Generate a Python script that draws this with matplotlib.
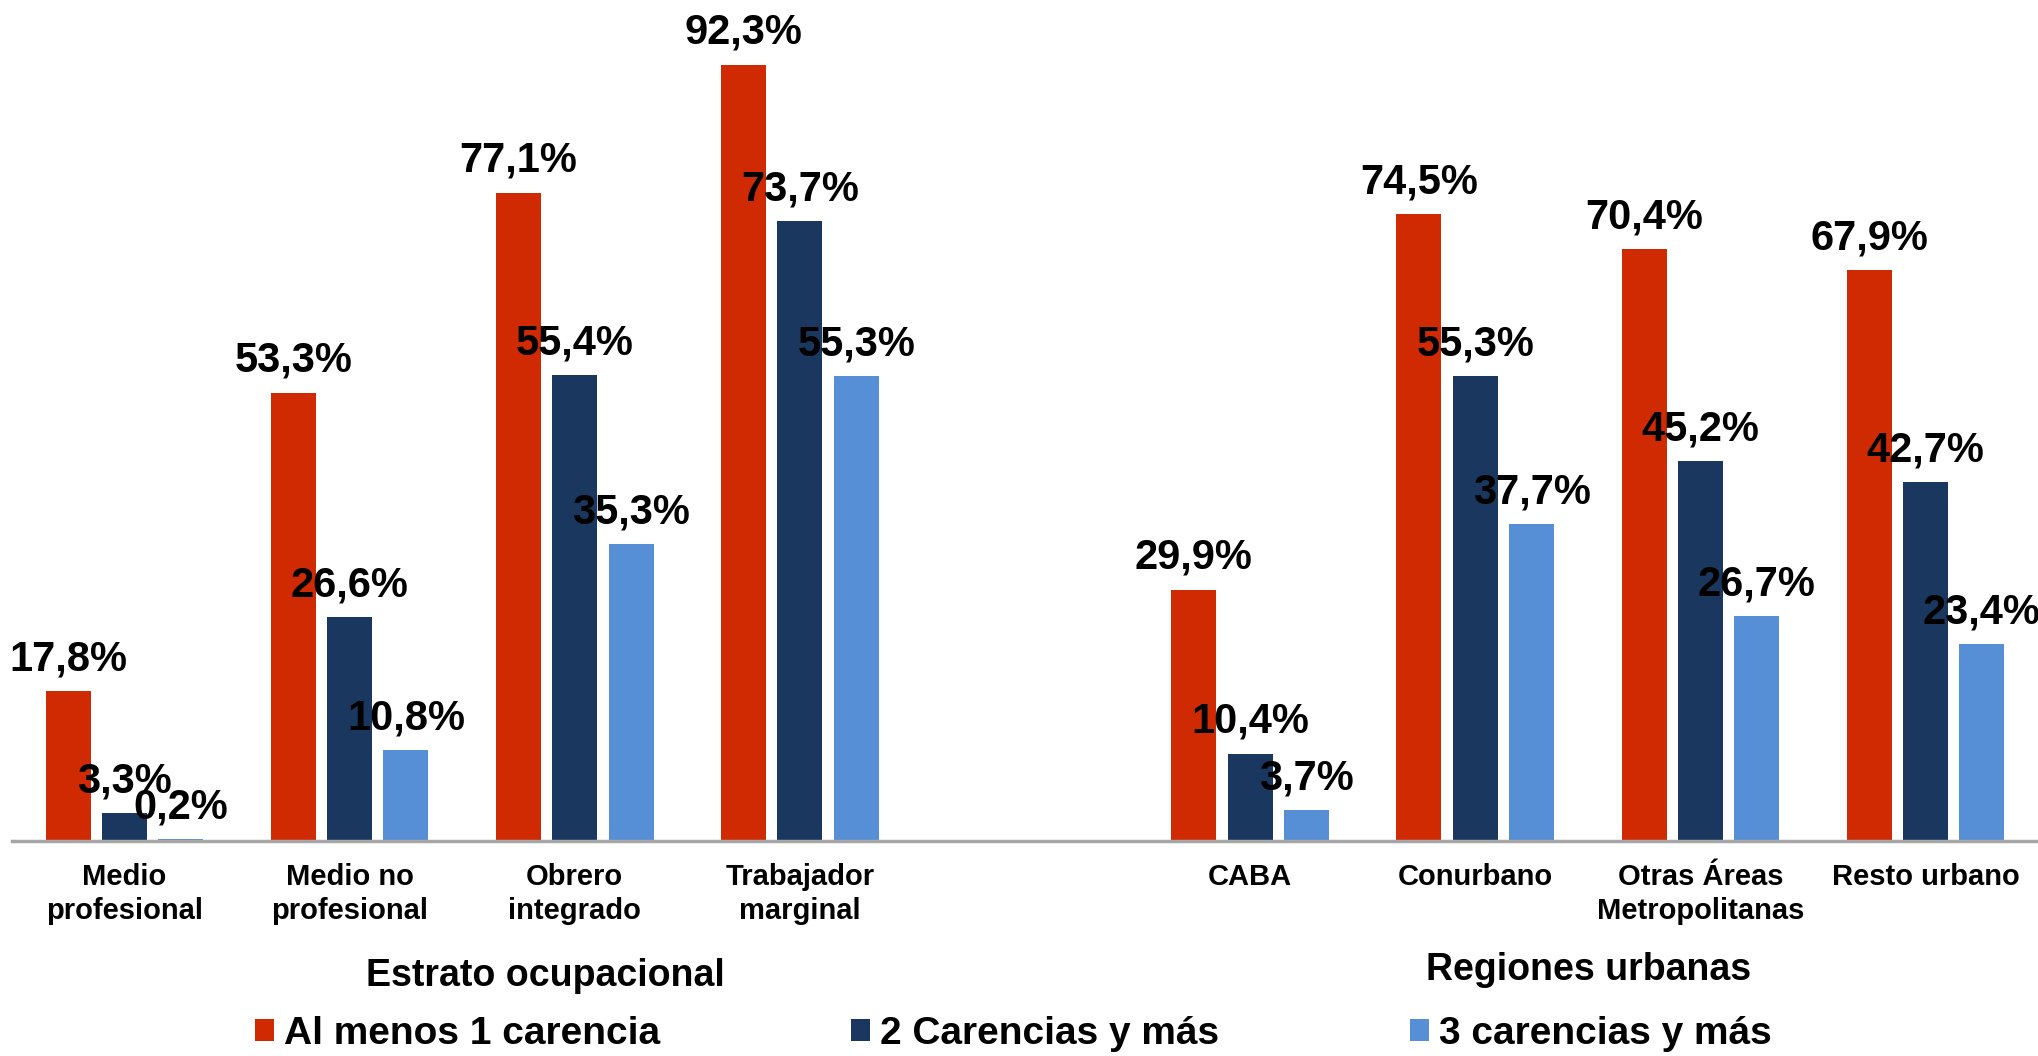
import numpy as np
import matplotlib
matplotlib.use('Agg')
import matplotlib.pyplot as plt
from matplotlib.patches import Patch

# data
categorias = ['Medio\nprofesional', 'Medio no\nprofesional', 'Obrero\nintegrado', 'Trabajador\nmarginal',
              '', 'CABA', 'Conurbano', 'Otras Áreas\nMetropolitanas', 'Resto urbano']
series = ['Al menos 1 carencia', '2 Carencias y más', '3 carencias y más']
al_menos_1 = [17.8, 53.3, 77.1, 92.3, None, 29.9, 74.5, 70.4, 67.9]
dos_y_mas = [3.3, 26.6, 55.4, 73.7, None, 10.4, 55.3, 45.2, 42.7]
tres_y_mas = [0.2, 10.8, 35.3, 55.3, None, 3.7, 37.7, 26.7, 23.4]
colores = ['#D02A02', '#1A375F', '#568FD5']
grupos = ['Estrato ocupacional', 'Regiones urbanas']

txt_font = ['Liberation Sans', 'DejaVu Sans']

fig = plt.figure(figsize=(20.38, 10.56), dpi=100)
ax = fig.add_axes([12 / 2038, 1 - 841 / 1056, 1 - 12 / 2038, 841 / 1056])

x = np.arange(len(categorias))
ancho = 0.2
offsets = [-0.25, 0, 0.25]

for vals, off, col in zip([al_menos_1, dos_y_mas, tres_y_mas], offsets, colores):
    xs = [xi + off for xi, v in zip(x, vals) if v is not None]
    vs = [v for v in vals if v is not None]
    bars = ax.bar(xs, vs, width=ancho, color=col)
    for b, v in zip(bars, vs):
        ax.annotate(f'{v:.1f}%'.replace('.', ','),
                    (b.get_x() + b.get_width() / 2, b.get_height()),
                    xytext=(0, 15), textcoords='offset points',
                    ha='center', va='baseline', fontsize=30, fontweight='bold',
                    family=txt_font, color='black')

ax.set_xlim(-0.5, 8.5)
ax.set_ylim(0, 100)
ax.set_yticks([])
ax.set_xticks(x)
ax.set_xticklabels(categorias, fontsize=21, fontweight='bold', family=txt_font, linespacing=1.25)
ax.tick_params(axis='x', length=0, pad=16)
for s in ['top', 'left', 'right']:
    ax.spines[s].set_visible(False)
ax.spines['bottom'].set_color('#A6A6A6')
ax.spines['bottom'].set_linewidth(2.5)
ax.patch.set_alpha(0)

fig.text(545 / 2038, 1 - 976 / 1056, grupos[0], ha='center', va='center',
         fontsize=27, fontweight='bold', family=txt_font)
fig.text(1589 / 2038, 1 - 970 / 1056, grupos[1], ha='center', va='center',
         fontsize=27, fontweight='bold', family=txt_font)

handles = [Patch(facecolor=c, edgecolor='none') for c in colores]
fig.legend(handles, series, loc='center left', bbox_to_anchor=(255 / 2038, 22 / 1056),
           ncol=3, frameon=False, prop={'family': txt_font, 'weight': 'bold', 'size': 28},
           handlelength=0.5, handleheight=0.5, handletextpad=0.25, columnspacing=4.9,
           borderpad=0, borderaxespad=0)

fig.savefig('out.png', dpi=100)
